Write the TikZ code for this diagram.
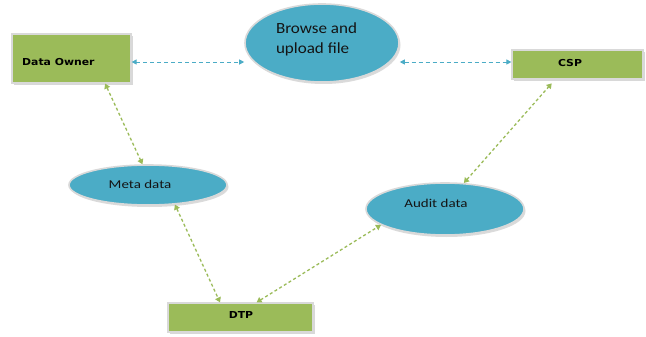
\documentclass[tikz,border=0pt]{standalone}
\usepackage{fontspec}
\usepackage{graphicx}
\newfontfamily\boxfont{DejaVu Sans}
\newfontfamily\ellfont{Carlito}
\usetikzlibrary{arrows.meta,shadows,calc,shapes.geometric}
\definecolor{boxgreen}{HTML}{9BBB59}
\definecolor{ellblue}{HTML}{4BACC6}
\begin{document}
\begin{tikzpicture}[x=1pt,y=-1pt,
 boxnode/.style={rectangle, fill=boxgreen, draw=white!85!black, line width=1.2pt,
   drop shadow={shadow xshift=2pt,shadow yshift=-2pt,fill=black!30}, inner sep=0pt},
 ellnode/.style={ellipse, fill=ellblue, draw=white!85!black, line width=1.6pt,
   drop shadow={shadow xshift=1.5pt,shadow yshift=-2pt,fill=black!28}, inner sep=0pt},
 boxtext/.style={font=\boxfont\bfseries\fontsize{9.6}{11}\selectfont, text=black, inner sep=0pt},
 elltext/.style={font=\ellfont\fontsize{12}{14}\selectfont, text=black!92, inner sep=0pt},
 greenarrow/.style={draw=boxgreen, line width=1.3pt, dash pattern=on 3pt off 2.5pt,
   {Triangle[length=5pt,width=6pt]}-{Triangle[length=5pt,width=6pt]}},
 bluearrow/.style={draw=ellblue, line width=1pt, dash pattern=on 4pt off 3pt,
   {Triangle[length=5pt,width=5pt]}-{Triangle[length=5pt,width=5pt]}},
]
\fill[white] (0,0) rectangle (646,337);
\useasboundingbox (0,0) rectangle (646,337);

% boxes
\node[boxnode, minimum width=119pt, minimum height=49pt] (do) at (71.5,58.5) {};
\node[boxtext, anchor=west] (dot) at (22,62) {\scalebox{1.13}[1]{Data Owner}};
\node[boxnode, minimum width=131pt, minimum height=29pt] (csp) at (577.5,64.5) {};
\node[boxtext] (cspt) at (570,63.5) {\scalebox{1.13}[1]{CSP}};
\node[boxnode, minimum width=145pt, minimum height=29pt] (dtp) at (240.5,317.5) {};
\node[boxtext] (dtpt) at (241,314.5) {\scalebox{1.13}[1]{DTP}};

% ellipses
\node[ellnode, minimum width=154pt, minimum height=78pt] (browse) at (322,43) {};
\node[elltext, align=left, font=\ellfont\fontsize{15.5}{20}\selectfont] (browset) at (316.5,39)
  {\scalebox{1.1}[1]{Browse and}\\\scalebox{1.1}[1]{upload file}};
\node[ellnode, minimum width=158pt, minimum height=40pt] (meta) at (148,185) {};
\node[elltext] (metat) at (140,184) {\scalebox{1.25}[1]{Meta data}};
\node[ellnode, minimum width=158pt, minimum height=52pt] (audit) at (445,209) {};
\node[elltext] (auditt) at (436,203) {\scalebox{1.25}[1]{Audit data}};

% blue connectors
\coordinate (b1) at ($(do.north east)!0.57!(do.south east)$);
\draw[bluearrow] (b1) -- (b1 -| browse.west);
\draw[bluearrow] (b1 -| browse.east) -- (b1 -| csp.west);

% green connectors
\draw[greenarrow] ($(do.south west)!0.78!(do.south east)$) -- (meta.105);
\draw[greenarrow] (meta.-36) -- ($(dtp.north west)!0.36!(dtp.north east)$);
\draw[greenarrow] ($(dtp.north west)!0.61!(dtp.north east)$) -- (audit.194);
\draw[greenarrow, shorten >=5pt] (audit.54) -- ($(csp.south west)!0.33!(csp.south east)$);
\end{tikzpicture}
\end{document}
